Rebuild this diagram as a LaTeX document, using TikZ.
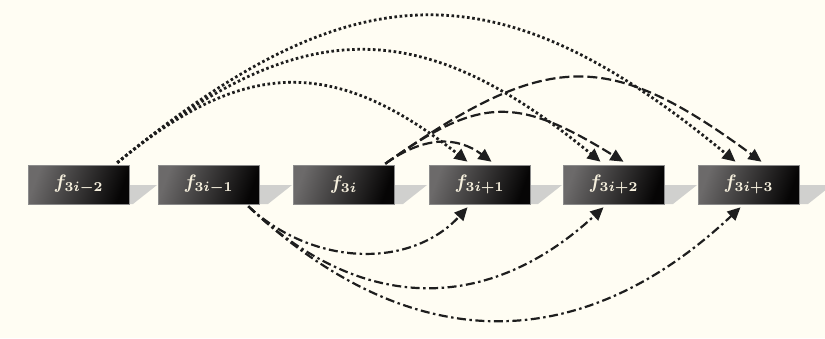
\documentclass[tikz,border=0pt]{standalone}
\usepackage{bm}
\usetikzlibrary{arrows.meta}
\definecolor{bgc}{RGB}{255,253,243}
\definecolor{boxlight}{RGB}{108,106,106}
\definecolor{boxmid}{RGB}{60,58,58}
\definecolor{boxdark}{RGB}{6,5,5}
\definecolor{boxedge}{RGB}{140,140,140}
\definecolor{txtc}{RGB}{246,240,222}
\definecolor{shad}{RGB}{208,208,206}
\definecolor{linec}{RGB}{30,30,30}
\newcommand{\flabel}[1]{\scalebox{1.95}{$\bm{f_{#1}}$}}
\tikzset{
  fbox/.style={draw=boxedge, line width=0.6pt, minimum width=101pt, minimum height=39pt,
    inner sep=0pt, left color=boxlight, middle color=boxmid, right color=boxdark, shading angle=70,
    text=txtc},
  tipstyle/.style={-{Triangle[length=13pt,width=12pt]}},
  dotarrow/.style={tipstyle, draw=linec, line width=2.8pt, dash pattern=on 2.6pt off 2.6pt},
  dasharrow/.style={tipstyle, draw=linec, line width=2.2pt, dash pattern=on 10pt off 4pt},
  dasharrowdot/.style={tipstyle, draw=linec, line width=2.2pt, dash pattern=on 9pt off 3.5pt on 2.5pt off 3.5pt},
  shadowpoly/.style={fill=shad, draw=none}
}
\begin{document}
\begin{tikzpicture}[x=1pt,y=-1pt]
\useasboundingbox (0,0) rectangle (825,338);
\fill[bgc] (0,0) rectangle (825,338);
% gray shadows
\foreach \r in {129,264,399,534,669,804}{
  \fill[shadowpoly] (\r-5,185) -- (\r+28,185) -- (\r+4,204) -- (\r-5,204) -- cycle;
}
\node[fbox] (b1) at (78.5,184.5) {\flabel{3i-2}};
\node[fbox] (b2) at (208.5,184.5) {\flabel{3i-1}};
\node[fbox] (b3) at (343.5,184.5) {\flabel{3i}};
\node[fbox] (b4) at (479.5,184.5) {\flabel{3i+1}};
\node[fbox] (b5) at (613.5,184.5) {\flabel{3i+2}};
\node[fbox] (b6) at (748.5,184.5) {\flabel{3i+3}};
% dotted arcs from f_{3i-2}
\draw[dotarrow] ([xshift=-12pt,yshift=2pt]b1.north east) .. controls (245,57) and (335,57) .. ([xshift=-12pt,yshift=3pt]b4.north);
\draw[dotarrow] ([xshift=-12pt,yshift=2pt]b1.north east) .. controls (300,13) and (420,13) .. ([xshift=-13pt,yshift=3pt]b5.north);
\draw[dotarrow] ([xshift=-12pt,yshift=2pt]b1.north east) .. controls (355,-33) and (500,-33) .. ([xshift=-13pt,yshift=3pt]b6.north);
% dashed arcs from f_{3i}
\draw[dasharrow] ([xshift=-9pt,yshift=1pt]b3.north east) .. controls (424,136) and (457,136) .. ([xshift=12pt,yshift=3pt]b4.north);
\draw[dasharrow] ([xshift=-9pt,yshift=1pt]b3.north east) .. controls (480,96) and (517,96) .. ([xshift=10pt,yshift=3pt]b5.north);
\draw[dasharrow] ([xshift=-9pt,yshift=1pt]b3.north east) .. controls (548,49) and (608,49) .. ([xshift=13pt,yshift=3pt]b6.north);
% dash-dot arcs from f_{3i-1}
\draw[dasharrowdot] ([xshift=-11pt,yshift=-2pt]b2.south east) .. controls (315,268) and (412,268) .. ([xshift=-12pt,yshift=-3pt]b4.south);
\draw[dasharrowdot] ([xshift=-11pt,yshift=-2pt]b2.south east) .. controls (362,314) and (488,314) .. ([xshift=-10pt,yshift=-3pt]b5.south);
\draw[dasharrowdot] ([xshift=-11pt,yshift=-2pt]b2.south east) .. controls (410,358) and (580,358) .. ([xshift=-8pt,yshift=-3pt]b6.south);
\end{tikzpicture}
\end{document}
